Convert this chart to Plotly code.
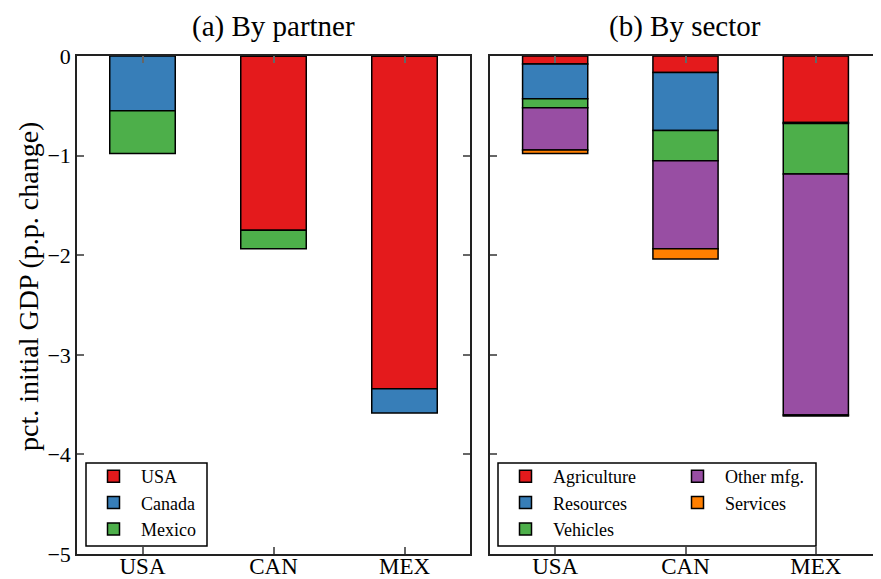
import plotly.graph_objects as go

countries = ["USA", "CAN", "MEX"]

# (a) By partner
partner_names = ["USA", "Canada", "Mexico"]
partner_usa = [0.0, -1.75, -3.34]
partner_canada = [-0.55, 0.0, -0.245]
partner_mexico = [-0.43, -0.185, 0.0]

# (b) By sector
sector_names = ["Agriculture", "Resources", "Vehicles", "Other mfg.", "Services"]
sec_agriculture = [-0.08, -0.165, -0.667]
sec_resources = [-0.35, -0.582, -0.01]
sec_vehicles = [-0.09, -0.304, -0.508]
sec_other_mfg = [-0.425, -0.884, -2.42]
sec_services = [-0.034, -0.103, -0.01]

colors = {
    "red": "#e41a1c",
    "blue": "#377eb8",
    "green": "#4daf4a",
    "purple": "#984ea3",
    "orange": "#ff7f00",
}

FONT = "Liberation Serif"
OFF = 8                      # page body margin of the html page
W, H = 881 - OFF, 579 - OFF  # figure size so that it fits the window
MT = 56 - OFF
MB = H - (554 - OFF)
ML, MR = 0, 0
plot_h = H - MT - MB


def fx(pix):
    """window pixel column -> paper x"""
    return (pix - OFF) / W


def py(pix):
    """window pixel row -> paper y (paper spans the plot area vertically)"""
    return (H - MB - (pix - OFF)) / plot_h


fig = go.Figure()
line = dict(color="black", width=1.5)

for name, vals, col in zip(partner_names,
                           [partner_usa, partner_canada, partner_mexico],
                           [colors["red"], colors["blue"], colors["green"]]):
    fig.add_trace(go.Bar(x=countries, y=vals, name=name, width=0.5,
                         marker=dict(color=col, line=line),
                         xaxis="x", yaxis="y", legend="legend"))

legend_of = {"Agriculture": "legend2", "Resources": "legend2", "Vehicles": "legend2",
             "Other mfg.": "legend3", "Services": "legend3"}
for name, vals, col in zip(sector_names,
                           [sec_agriculture, sec_resources, sec_vehicles, sec_other_mfg, sec_services],
                           [colors["red"], colors["blue"], colors["green"], colors["purple"], colors["orange"]]):
    fig.add_trace(go.Bar(x=countries, y=vals, name=name, width=0.5,
                         marker=dict(color=col, line=line),
                         xaxis="x2", yaxis="y2", legend=legend_of[name]))

axis_common = dict(showline=True, linecolor="#222222", linewidth=1.5, mirror="ticks",
                   ticks="inside", ticklen=7, tickwidth=1.5, tickcolor="#666666",
                   showgrid=False, zeroline=False, automargin=False)

leg_common = dict(xanchor="left", yanchor="top", font=dict(size=18),
                  tracegroupgap=0, traceorder="normal", itemwidth=45,
                  bgcolor="rgba(0,0,0,0)", borderwidth=0, y=py(458))

fig.update_layout(
    width=W, height=H,
    margin=dict(l=ML, r=MR, t=MT, b=MB, pad=0),
    barmode="relative",
    plot_bgcolor="white", paper_bgcolor="white",
    font=dict(family=FONT, color="black"),
    xaxis=dict(domain=[fx(77), fx(470)], range=[-0.5, 2.5], tickfont=dict(size=23),
               ticklabelstandoff=-9, **axis_common),
    yaxis=dict(domain=[0, 1], range=[-5, 0], tickvals=[0, -1, -2, -3, -4, -5],
               tickfont=dict(size=22), **axis_common),
    xaxis2=dict(domain=[fx(490), 1.0], range=[-0.5, 2.5], tickfont=dict(size=23),
                ticklabelstandoff=-9, **axis_common),
    yaxis2=dict(domain=[0, 1], range=[-5, 0], tickvals=[0, -1, -2, -3, -4, -5],
                showticklabels=False, anchor="x2", **axis_common),
    legend=dict(x=fx(86), **leg_common),
    legend2=dict(x=fx(498), **leg_common),
    legend3=dict(x=fx(670), **leg_common),
)

# legend frames
for x0, x1 in [(86, 207), (498, 816)]:
    fig.add_shape(type="rect", xref="paper", yref="paper",
                  x0=fx(x0), x1=fx(x1), y0=py(546), y1=py(463),
                  line=dict(color="black", width=1.5), fillcolor="white", layer="above")

fig.add_annotation(text="(a) By partner", x=fx(273), y=py(OFF), xref="paper", yref="paper",
                   showarrow=False, font=dict(size=29), xanchor="center", yanchor="top")
fig.add_annotation(text="(b) By sector", x=fx(685), y=py(OFF), xref="paper", yref="paper",
                   showarrow=False, font=dict(size=29), xanchor="center", yanchor="top")
fig.add_annotation(text="pct. initial GDP (p.p. change)", x=fx(28), y=py(287), xref="paper", yref="paper",
                   showarrow=False, font=dict(size=28), textangle=-90,
                   xanchor="center", yanchor="middle")

fig.write_html("out.html")
